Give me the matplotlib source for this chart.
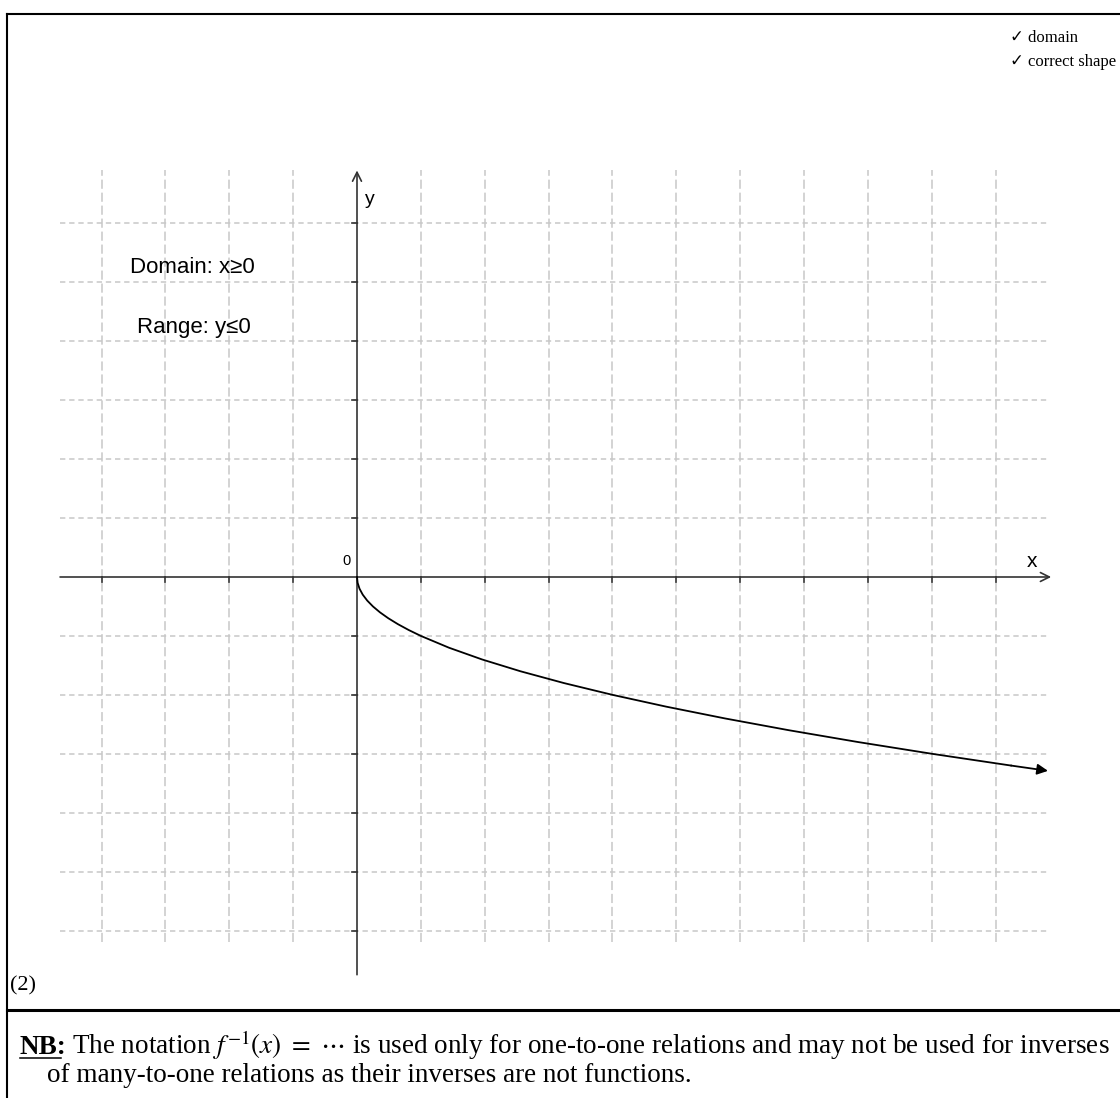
import matplotlib
matplotlib.use("Agg")
import matplotlib.pyplot as plt
import numpy as np

# grid positions (units) and the graph of the inverse, y = -sqrt(x), x >= 0
grid_x = [-4, -3, -2, -1, 1, 2, 3, 4, 5, 6, 7, 8, 9, 10]
grid_y = [-6, -5, -4, -3, -2, -1, 1, 2, 3, 4, 5, 6]
curve_x = [0, 0.01, 0.04, 0.09, 0.16, 0.25, 0.36, 0.49, 0.64, 0.81, 1.0,
           1.44, 1.96, 2.56, 3.24, 4.0, 4.84, 5.76, 6.76, 7.84, 9.0, 10.24, 10.82]
curve_y = [0, -0.1, -0.2, -0.3, -0.4, -0.5, -0.6, -0.7, -0.8, -0.9, -1.0,
           -1.2, -1.4, -1.6, -1.8, -2.0, -2.2, -2.4, -2.6, -2.8, -3.0, -3.2, -3.29]

domain_txt = "Domain: x\u22650"
range_txt = "Range: y\u22640"
marks = ["\u2713 domain", "\u2713 correct shape"]
nb_line1 = r"The notation $f^{-1}(x)\ =\ \cdots$ is used only for one-to-one relations and may not be used for inverses"
nb_line2 = "of many-to-one relations as their inverses are not functions."

W, H = 1120, 1098
fig = plt.figure(figsize=(W / 100, H / 100), dpi=100)
plt.rcParams["mathtext.fontset"] = "stix"

# pixel scale of one unit
ux, uy = 63.86, 58.92
ox, oy = 357, 577

ax = fig.add_axes([0, 0, 1, 1])
ax.set_xlim(-ox / ux, (W - ox) / ux)
ax.set_ylim((oy - H) / uy, oy / uy)
ax.axis("off")

page = fig.add_axes([0, 0, 1, 1], facecolor="none")
page.set_xlim(0, W)
page.set_ylim(H, 0)
page.axis("off")

gcol = "#c8c8c8"
x_lo, x_hi = -4.65, 10.82
y_lo, y_hi = -6.75, 6.9

# dashed grid
for gx in grid_x:
    ax.plot([gx, gx], [-6.2, 6.9], color=gcol, lw=1.1, dashes=(6, 2.5), zorder=1)
for gy in grid_y:
    ax.plot([x_lo, 10.85], [gy, gy], color=gcol, lw=1.1, dashes=(3.5, 2.5), zorder=1)

# axes with open arrow heads
acol = "#333333"
ax.annotate("", xy=(x_hi + 0.05, 0), xytext=(x_lo, 0),
            arrowprops=dict(arrowstyle="->", color=acol, lw=1.2,
                            mutation_scale=16, shrinkA=0, shrinkB=0), zorder=3)
ax.annotate("", xy=(0, y_hi), xytext=(0, y_lo),
            arrowprops=dict(arrowstyle="->", color=acol, lw=1.2,
                            mutation_scale=16, shrinkA=0, shrinkB=0), zorder=3)

# tick marks
for gx in grid_x:
    ax.plot([gx, gx], [0, -5 / uy], color=acol, lw=1.2, zorder=3)
for gy in grid_y:
    ax.plot([0, -5 / ux], [gy, gy], color=acol, lw=1.2, zorder=3)

sans = ["Liberation Sans Narrow", "Liberation Sans", "DejaVu Sans"]
ax.text(0.12, 6.4, "y", fontsize=14, family=sans, va="center", ha="left")
ax.text(1032 / ux - ox / ux, 0.1, "x", fontsize=15, family=sans, va="bottom", ha="center")
ax.text(-0.17, 0.15, "0", fontsize=10.5, family=sans, va="bottom", ha="center")
ax.text(130 / ux - ox / ux, 5.26, domain_txt, fontsize=16, family=sans, va="center", ha="left")
ax.text(137 / ux - ox / ux, 4.24, range_txt, fontsize=16, family=sans, va="center", ha="left")

# the curve, ending in a filled arrow head
ax.plot(curve_x[:-1], curve_y[:-1], color="black", lw=1.3, zorder=4)
ax.annotate("", xy=(curve_x[-1], curve_y[-1]), xytext=(curve_x[-2], curve_y[-2]),
            arrowprops=dict(arrowstyle="-|>", color="black", lw=1.3,
                            mutation_scale=16, shrinkA=0, shrinkB=0), zorder=4)

# page frame
bk = dict(color="black", lw=1.5)
page.plot([7, W], [14, 14], **bk)
page.plot([7, 7], [14, H], **bk)
page.plot([7, W], [1010, 1010], lw=2.2, color="black")

serif = ["Liberation Serif", "DejaVu Serif"]
ck = ["Liberation Serif", "DejaVu Sans"]
page.text(1010, 38, marks[0], fontsize=12, family=ck, va="center", ha="left")
page.text(1010, 62, marks[1], fontsize=12, family=ck, va="center", ha="left")
page.text(10, 986, "(2)", fontsize=16, family=serif, va="center", ha="left")

fs = 19.5
nb = page.text(20, 1054, "NB:", fontsize=fs, family=serif, weight="bold", va="baseline", ha="left")
fig.canvas.draw()
r = fig.canvas.get_renderer()
bb = nb.get_window_extent(r)
page.plot([20, bb.x1 - 6], [1058, 1058], color="black", lw=1.1)
page.text(bb.x1 + 5, 1054, nb_line1, fontsize=fs, family=serif, va="baseline", ha="left")
page.text(47, 1082, nb_line2, fontsize=fs, family=serif, va="baseline", ha="left")

fig.savefig("out.png", dpi=100)
